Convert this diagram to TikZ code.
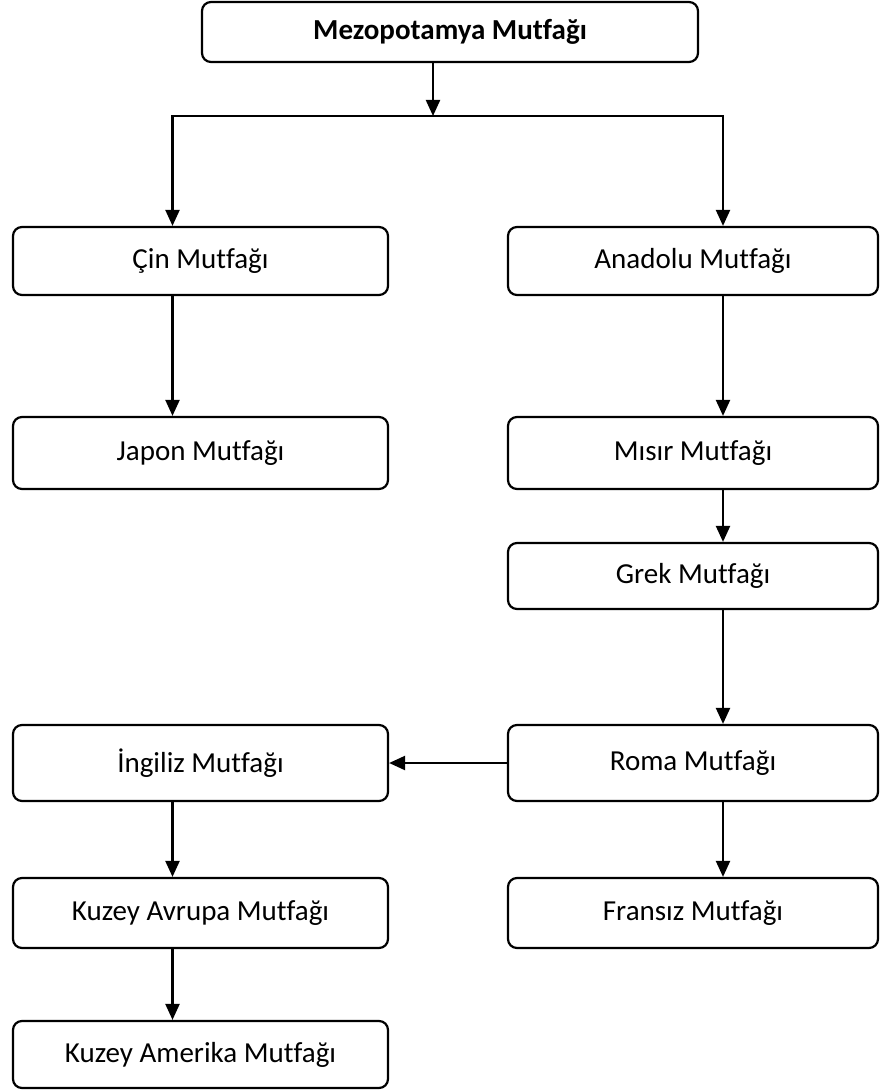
\documentclass[tikz,border=0pt]{standalone}
\usepackage{fontspec}
\setmainfont{Carlito}[Ligatures=NoCommon]
\usetikzlibrary{arrows.meta}
\begin{document}
\begin{tikzpicture}[x=1pt,y=1pt,
  box/.style={draw=black, line width=2.2pt, rounded corners=9pt, inner sep=0pt,
    font=\fontsize{29}{34}\selectfont, align=center},
  lbox/.style={box, minimum width=375pt},
  rbox/.style={box, minimum width=370pt},
  arr/.style={draw=black, line width=2.2pt, -{Triangle[length=16pt,width=14pt]}},
  ln/.style={draw=black, line width=2.2pt}]
\useasboundingbox (0,0) rectangle (879,-1091);
\fill[white] (0,0) rectangle (879,-1091);
\node[box, minimum width=496pt, minimum height=60pt, font=\fontsize{29}{34}\selectfont\bfseries] (top) at (450,-32) {Mezopotamya Mutfağı};
\node[lbox, minimum height=68pt] (cin) at (200.5,-261) {Çin Mutfağı};
\node[rbox, minimum height=68pt] (ana) at (693,-261) {Anadolu Mutfağı};
\node[lbox, minimum height=72pt] (jap) at (200.5,-453) {Japon Mutfağı};
\node[rbox, minimum height=72pt] (mis) at (693,-453) {Mısır Mutfağı};
\node[rbox, minimum height=66pt] (grek) at (693,-576) {Grek Mutfağı};
\node[lbox, minimum height=76pt] (ing) at (200.5,-763) {İngiliz Mutfağı};
\node[rbox, minimum height=76pt] (roma) at (693,-763) {Roma Mutfağı};
\node[lbox, minimum height=70pt] (kav) at (200.5,-913) {Kuzey Avrupa Mutfağı};
\node[rbox, minimum height=70pt] (fra) at (693,-913) {Fransız Mutfağı};
\node[lbox, minimum height=67pt] (kam) at (200.5,-1054.5) {Kuzey Amerika Mutfağı};
\coordinate (tj) at (433,-116);
\coordinate (lx) at (172.5,-116);
\coordinate (rx) at (723,-116);
\draw[arr] (tj |- top.south) -- (tj);
\draw[ln, line cap=rect] (lx) -- (rx);
\draw[arr] (lx) -- (lx |- cin.north);
\draw[arr] (rx) -- (rx |- ana.north);
\draw[arr] (lx |- cin.south) -- (lx |- jap.north);
\draw[arr] (rx |- ana.south) -- (rx |- mis.north);
\draw[arr] (rx |- mis.south) -- (rx |- grek.north);
\draw[arr] (rx |- grek.south) -- (rx |- roma.north);
\draw[arr] (roma.west) -- (ing.east);
\draw[arr] (lx |- ing.south) -- (lx |- kav.north);
\draw[arr] (lx |- kav.south) -- (lx |- kam.north);
\draw[arr] (rx |- roma.south) -- (rx |- fra.north);
\end{tikzpicture}
\end{document}
